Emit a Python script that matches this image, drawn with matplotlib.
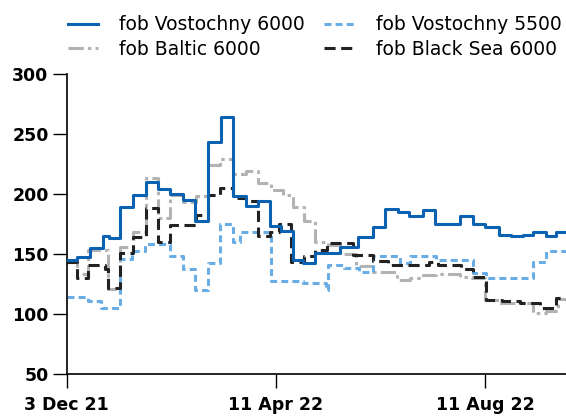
import matplotlib
matplotlib.use('Agg')
import matplotlib.pyplot as plt

plt.rcParams['font.family'] = ['DejaVu Sans']
plt.rcParams['lines.scale_dashes'] = False

# x in weeks since 3 Dec 21; each value holds until the next change point
x_end = 42
tick_pos = [0, 17.6, 35.2]
tick_labels = ['3 Dec 21', '11 Apr 22', '11 Aug 22']

vost6000_x = [0, 0.84, 1.96, 3.08, 3.6, 4.5, 5.6, 6.7, 7.7, 8.7, 9.8, 10.8, 11.9, 13.0,
              14.0, 15.1, 16.1, 17.1, 18.0, 19.0, 19.9, 20.9, 23.0, 24.5, 25.8, 26.8, 27.9,
              28.8, 30.0, 31.0, 33.1, 34.2, 35.2, 36.4, 37.4, 38.4, 39.2, 40.3, 41.2]
vost6000_y = [145, 147, 155, 165, 163, 189, 199, 210, 204, 200, 195, 177, 243, 264,
              198, 190, 194, 173, 169, 145, 142, 151, 156, 164, 172, 187, 185,
              181, 186, 175, 181, 175, 172, 166, 164.5, 166, 168.5, 165, 168.5]

vost5500_x = [0, 1.8, 2.85, 4.5, 5.5, 6.6, 8.7, 9.8, 10.8, 11.9, 12.9, 14.0, 14.6, 17.2,
              19.9, 21.8, 21.95, 23.3, 24.6, 25.8, 28.0, 28.9, 31.1, 34.2, 35.3, 39.2, 40.3]
vost5500_y = [114, 111, 105, 146, 152, 158, 148, 137, 120, 142, 175, 160, 168, 127,
              126, 119.5, 141, 138, 135, 148, 142, 148, 145, 134, 129.5, 143.5, 152.5]

baltic_x = [0, 0.84, 1.8, 3.5, 4.5, 5.6, 6.7, 7.7, 8.7, 9.8, 10.9, 11.9, 12.9, 14.0,
            15.1, 16.1, 17.2, 18.2, 19.0, 20.0, 20.9, 22.0, 23.0, 24.3, 25.8, 27.8, 28.9,
            30.0, 31.1, 33.1, 34.1, 35.2, 36.4, 39.2, 40.3, 41.3]
baltic_y = [143.5, 133, 153, 121, 156, 168.5, 213, 180, 199, 193, 198, 224, 229, 216,
            219, 209, 203, 199, 189, 177, 160, 157, 150, 140, 135, 128.5, 130,
            132, 133, 131, 130, 111.5, 109, 100.5, 102, 112]

blacksea_x = [0, 0.84, 1.8, 3.2, 3.5, 4.5, 5.6, 6.7, 7.7, 8.7, 10.9, 11.9, 12.9, 14.0,
              15.1, 16.1, 17.1, 17.9, 18.9, 20.0, 20.9, 21.9, 24.1, 25.8, 27.0, 30.5,
              31.2, 33.2, 34.2, 35.3, 36.6, 38.1, 39.8, 41.2]
blacksea_y = [143.5, 130, 141, 137, 121.5, 150.5, 164, 188, 159.5, 174, 182.5, 199, 204.5, 196.5,
              193.5, 164.5, 168, 175, 143.5, 148, 153, 159, 149, 144, 141, 143.5,
              141, 137, 131, 111.5, 110.5, 109, 105, 113]

series = [
    ('fob Vostochny 6000', vost6000_x, vost6000_y, '#0b62b0', None),
    ('fob Baltic 6000', baltic_x, baltic_y, '#b3b3b3', (11, 3, 2.5, 3)),
    ('fob Vostochny 5500', vost5500_x, vost5500_y, '#68ade6', (5, 3)),
    ('fob Black Sea 6000', blacksea_x, blacksea_y, '#222222', (8, 4)),
]

fig = plt.figure(figsize=(5.66, 4.17), dpi=100)
ax = fig.add_axes([0.1178, 0.1038, 0.8822, 0.7195])

handles = []
for label, xs, ys, color, dash in series:
    line, = ax.step(list(xs) + [x_end], list(ys) + [ys[-1]], where='post',
                    color=color, lw=2.2, label=label)
    if dash is not None:
        line.set_dashes(dash)
    handles.append(line)

# draw order: blue on top
handles[0].set_zorder(5)

ax.set_xlim(0, x_end)
ax.set_ylim(50, 300)
ax.set_yticks([50, 100, 150, 200, 250, 300])
ax.set_xticks(tick_pos)
ax.set_xticklabels(tick_labels)
for s in ['top', 'right']:
    ax.spines[s].set_visible(False)
for s in ['left', 'bottom']:
    ax.spines[s].set_linewidth(1.2)
ax.tick_params(direction='out', length=10, width=1, labelsize=12.5)
ax.tick_params(axis='x', pad=6)
ax.tick_params(axis='y', pad=3)
for t in ax.get_xticklabels() + ax.get_yticklabels():
    t.set_fontweight('bold')

fig.legend(handles=handles, loc='upper left', bbox_to_anchor=(0.12, 0.963), ncol=2,
           frameon=False, fontsize=13.5, handlelength=1.6, handletextpad=1.15,
           columnspacing=1.0, labelspacing=0.3, borderpad=0, borderaxespad=0)

plt.savefig('out.png', dpi=100)
plt.close('all')
